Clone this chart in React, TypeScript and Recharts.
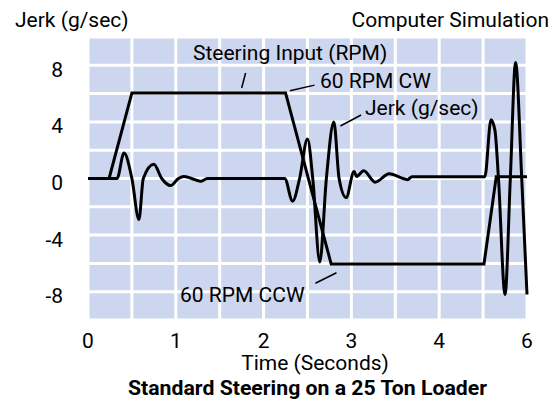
import React from 'react';
import { LineChart, Line, XAxis, YAxis, CartesianGrid, ReferenceLine } from 'recharts';

// jerk trace (g/sec)
const jerkTime = [
  0, 0.33, 0.41, 0.5, 0.58, 0.63, 0.75, 0.84, 0.94, 1.03, 1.09, 1.18, 1.28, 1.36,
  2.24, 2.33, 2.41, 2.5, 2.56, 2.64, 2.715, 2.8, 2.86, 2.94, 3.03, 3.06, 3.14, 3.27,
  3.43, 3.64, 3.69, 4.52, 4.59, 4.635, 4.675, 4.75, 4.81, 4.87, 4.94, 5.0,
];
const jerkValue = [
  0, 0, 1.8, 0, -2.9, 0, 1.0, 0, -0.5, 0, 0.15, 0, -0.2, 0,
  0, -1.6, 0, 2.8, 0, -5.9, 0, 4.0, 0, -1.35, 0.5, 0.15, 0.55, -0.26,
  0.33, -0.08, 0.13, 0.13, 4.15, 3.4, 0, -8.2, 0, 8.2, 0, -8.2,
];

// steering input (scaled RPM)
const steeringTime = [0, 0.24, 0.5, 2.25, 2.77, 4.51, 4.65, 5.0];
const steeringValue = [0, 0, 6.05, 6.05, -6.05, -6.05, 0.13, 0.13];

const xTicks = [0, 1, 2, 3, 4, 5];
const xTickLabels = ['0', '1', '2', '3', '4', '6'];
const yTicks = [8, 4, 0, -4, -8];
const xGrid = [0, 0.5, 1, 1.5, 2, 2.5, 3, 3.5, 4, 4.5, 5];
const yGrid = [-10, -8, -6, -4, -2, 0, 2, 4, 6, 8, 10];

const jerkData = jerkTime.map((t, i) => ({ t, v: jerkValue[i] }));
const steeringData = steeringTime.map((t, i) => ({ t, v: steeringValue[i] }));

const font = 'Roboto, sans-serif';

const YTick = ({ x, y, payload }: any) => (
  <text x={x} y={y + 4} dy="0.355em" textAnchor="end" fontFamily={font} fontSize={21} fill="#000">
    {payload.value}
  </text>
);

const XTick = ({ x, y, payload, index }: any) => (
  <text x={x} y={y} dy="0.71em" textAnchor="middle" fontFamily={font} fontSize={21} fill="#000">
    {xTickLabels[index] ?? payload.value}
  </text>
);

const lead = { stroke: '#000', strokeWidth: 1.5 };

export default function App() {
  return (
    <div style={{ position: 'relative', width: 550, height: 394 }}>
      <LineChart
        width={550}
        height={394}
        margin={{ top: 29, right: 31, left: 0, bottom: 0 }}
      >
        <CartesianGrid
          fill="#ccd6ee"
          fillOpacity={1}
          stroke="#fff"
          strokeWidth={3}
          horizontalValues={yGrid}
          verticalValues={xGrid}
        />
        <XAxis
          dataKey="t"
          type="number"
          domain={[0, 5]}
          ticks={xTicks}
          axisLine={false}
          tickLine={false}
          tickSize={0}
          tickMargin={13}
          height={82}
          tick={<XTick />}
          allowDuplicatedCategory={false}
        />
        <YAxis
          type="number"
          domain={[-10, 10]}
          ticks={yTicks}
          axisLine={false}
          tickLine={false}
          tickSize={0}
          tickMargin={25}
          width={80}
          tick={<YTick />}
        />
        <ReferenceLine segment={[{ x: 1.75, y: 6.4 }, { x: 1.795, y: 7.46 }]} {...lead} />
        <ReferenceLine segment={[{ x: 2.3, y: 6.2 }, { x: 2.58, y: 6.6 }]} {...lead} />
        <ReferenceLine segment={[{ x: 2.875, y: 3.71 }, { x: 3.11, y: 4.49 }]} {...lead} />
        <ReferenceLine segment={[{ x: 2.59, y: -7.4 }, { x: 2.83, y: -6.66 }]} {...lead} />
        <Line
          data={steeringData}
          dataKey="v"
          type="linear"
          stroke="#000"
          strokeWidth={3}
          dot={false}
          isAnimationActive={false}
        />
        <Line
          data={jerkData}
          dataKey="v"
          type="monotone"
          stroke="#000"
          strokeWidth={3}
          dot={false}
          isAnimationActive={false}
        />
      </LineChart>
      <svg
        width={550}
        height={394}
        style={{ position: 'absolute', left: 0, top: 0, pointerEvents: 'none' }}
        fontFamily={font}
        fontSize={21}
      >
        <text x={7} y={19}>Jerk (g/sec)</text>
        <text x={541} y={19} textAnchor="end">Computer Simulation</text>
        <text x={185} y={52}>Steering Input (RPM)</text>
        <text x={312} y={80}>60 RPM CW</text>
        <text x={357} y={107}>Jerk (g/sec)</text>
        <text x={172} y={294}>60 RPM CCW</text>
        <text x={307} y={362} textAnchor="middle">Time (Seconds)</text>
        <text x={299.5} y={387} textAnchor="middle" fontWeight="bold" textLength={359} lengthAdjust="spacingAndGlyphs">
          Standard Steering on a 25 Ton Loader
        </text>
      </svg>
    </div>
  );
}
